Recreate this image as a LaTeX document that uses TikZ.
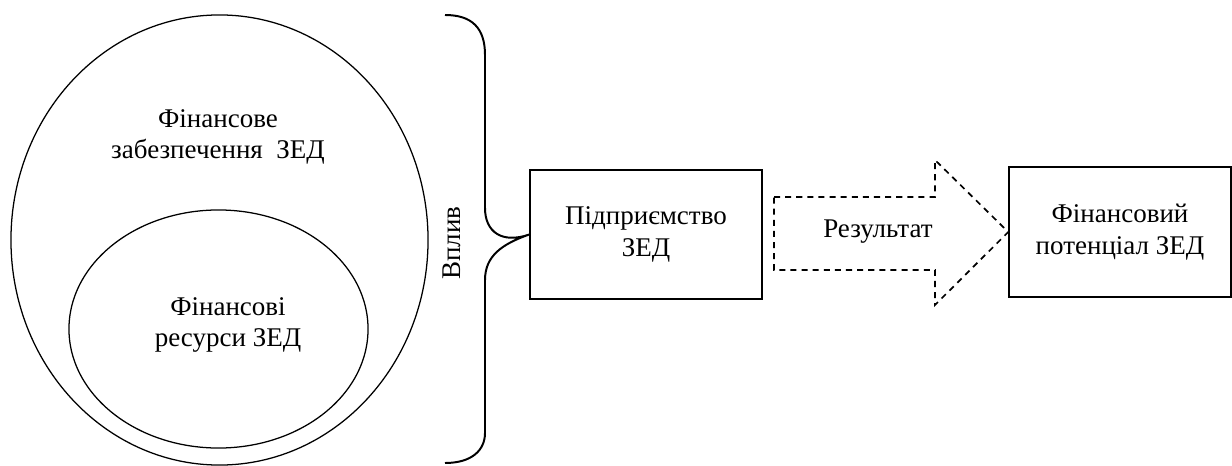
\documentclass[tikz,border=0pt]{standalone}
\usepackage{fontspec}
\setmainfont{Liberation Serif}
\newfontfamily\timesfont{Liberation Serif}
\usetikzlibrary{shapes.geometric}

\begin{document}
\begin{tikzpicture}[
    x=0.025cm, y=-0.025cm,
    label/.style={align=center, font=\timesfont\fontsize{19.2}{22.5}\selectfont},
    oval/.style={ellipse, draw, line width=0.9pt, inner sep=0pt},
    box/.style={rectangle, draw, line width=1pt, inner sep=0pt, align=center,
      font=\timesfont\fontsize{19.2}{22.5}\selectfont},
    brace/.style={line width=1.4pt},
    result/.style={dashed, line width=1.2pt, dash pattern=on 4.3pt off 3.6pt}
  ]

  \useasboundingbox (0,0) rectangle (1232,466);

  \node[oval, minimum width=10.425cm, minimum height=11.25cm] (F) at (219.5,240) {};
  \node[oval, minimum width=7.475cm, minimum height=5.95cm] (R) at (218.5,329) {};

  \node[label] (Ftext) at (218,137) {Фінансове\\забезпечення~~ЗЕД};
  \node[label] (Rtext) at (228,325) {Фінансові\\ресурси ЗЕД};
  \node[label, rotate=90] (V) at (452,243) {Вплив};

  \node[box, minimum width=5.8cm, minimum height=3.225cm] (P) at (646,234.5) {Підприємство\\ЗЕД};
  \node[box, minimum width=5.55cm, minimum height=3.25cm] (FP) at (1120,232) {Фінансовий\\потенціал ЗЕД};

  \coordinate (T) at (445,15);
  \coordinate (M) at (P.west);
  \coordinate (B) at (445,463);

  \draw[brace] (T) .. controls (472,15) and (485,28) .. (485,55)
    -- (485,208) .. controls (485,232) and (502,244) .. (M)
    .. controls (502,244) and (485,256) .. (485,280)
    -- (485,433) .. controls (485,450) and (472,463) .. (B);

  \coordinate (A1) at (774,197);
  \coordinate (A2) at (935,197);
  \coordinate (A3) at (935,160);
  \coordinate (A4) at (FP.west);
  \coordinate (A5) at (935,305);
  \coordinate (A6) at (935,270);
  \coordinate (A7) at (774,270);

  \draw[result] (A1) -- (A2) -- (A3) -- (A4) -- (A5) -- (A6) -- (A7) -- cycle;
  \node[label] (Rez) at (878,232) {Результат};

\end{tikzpicture}
\end{document}
